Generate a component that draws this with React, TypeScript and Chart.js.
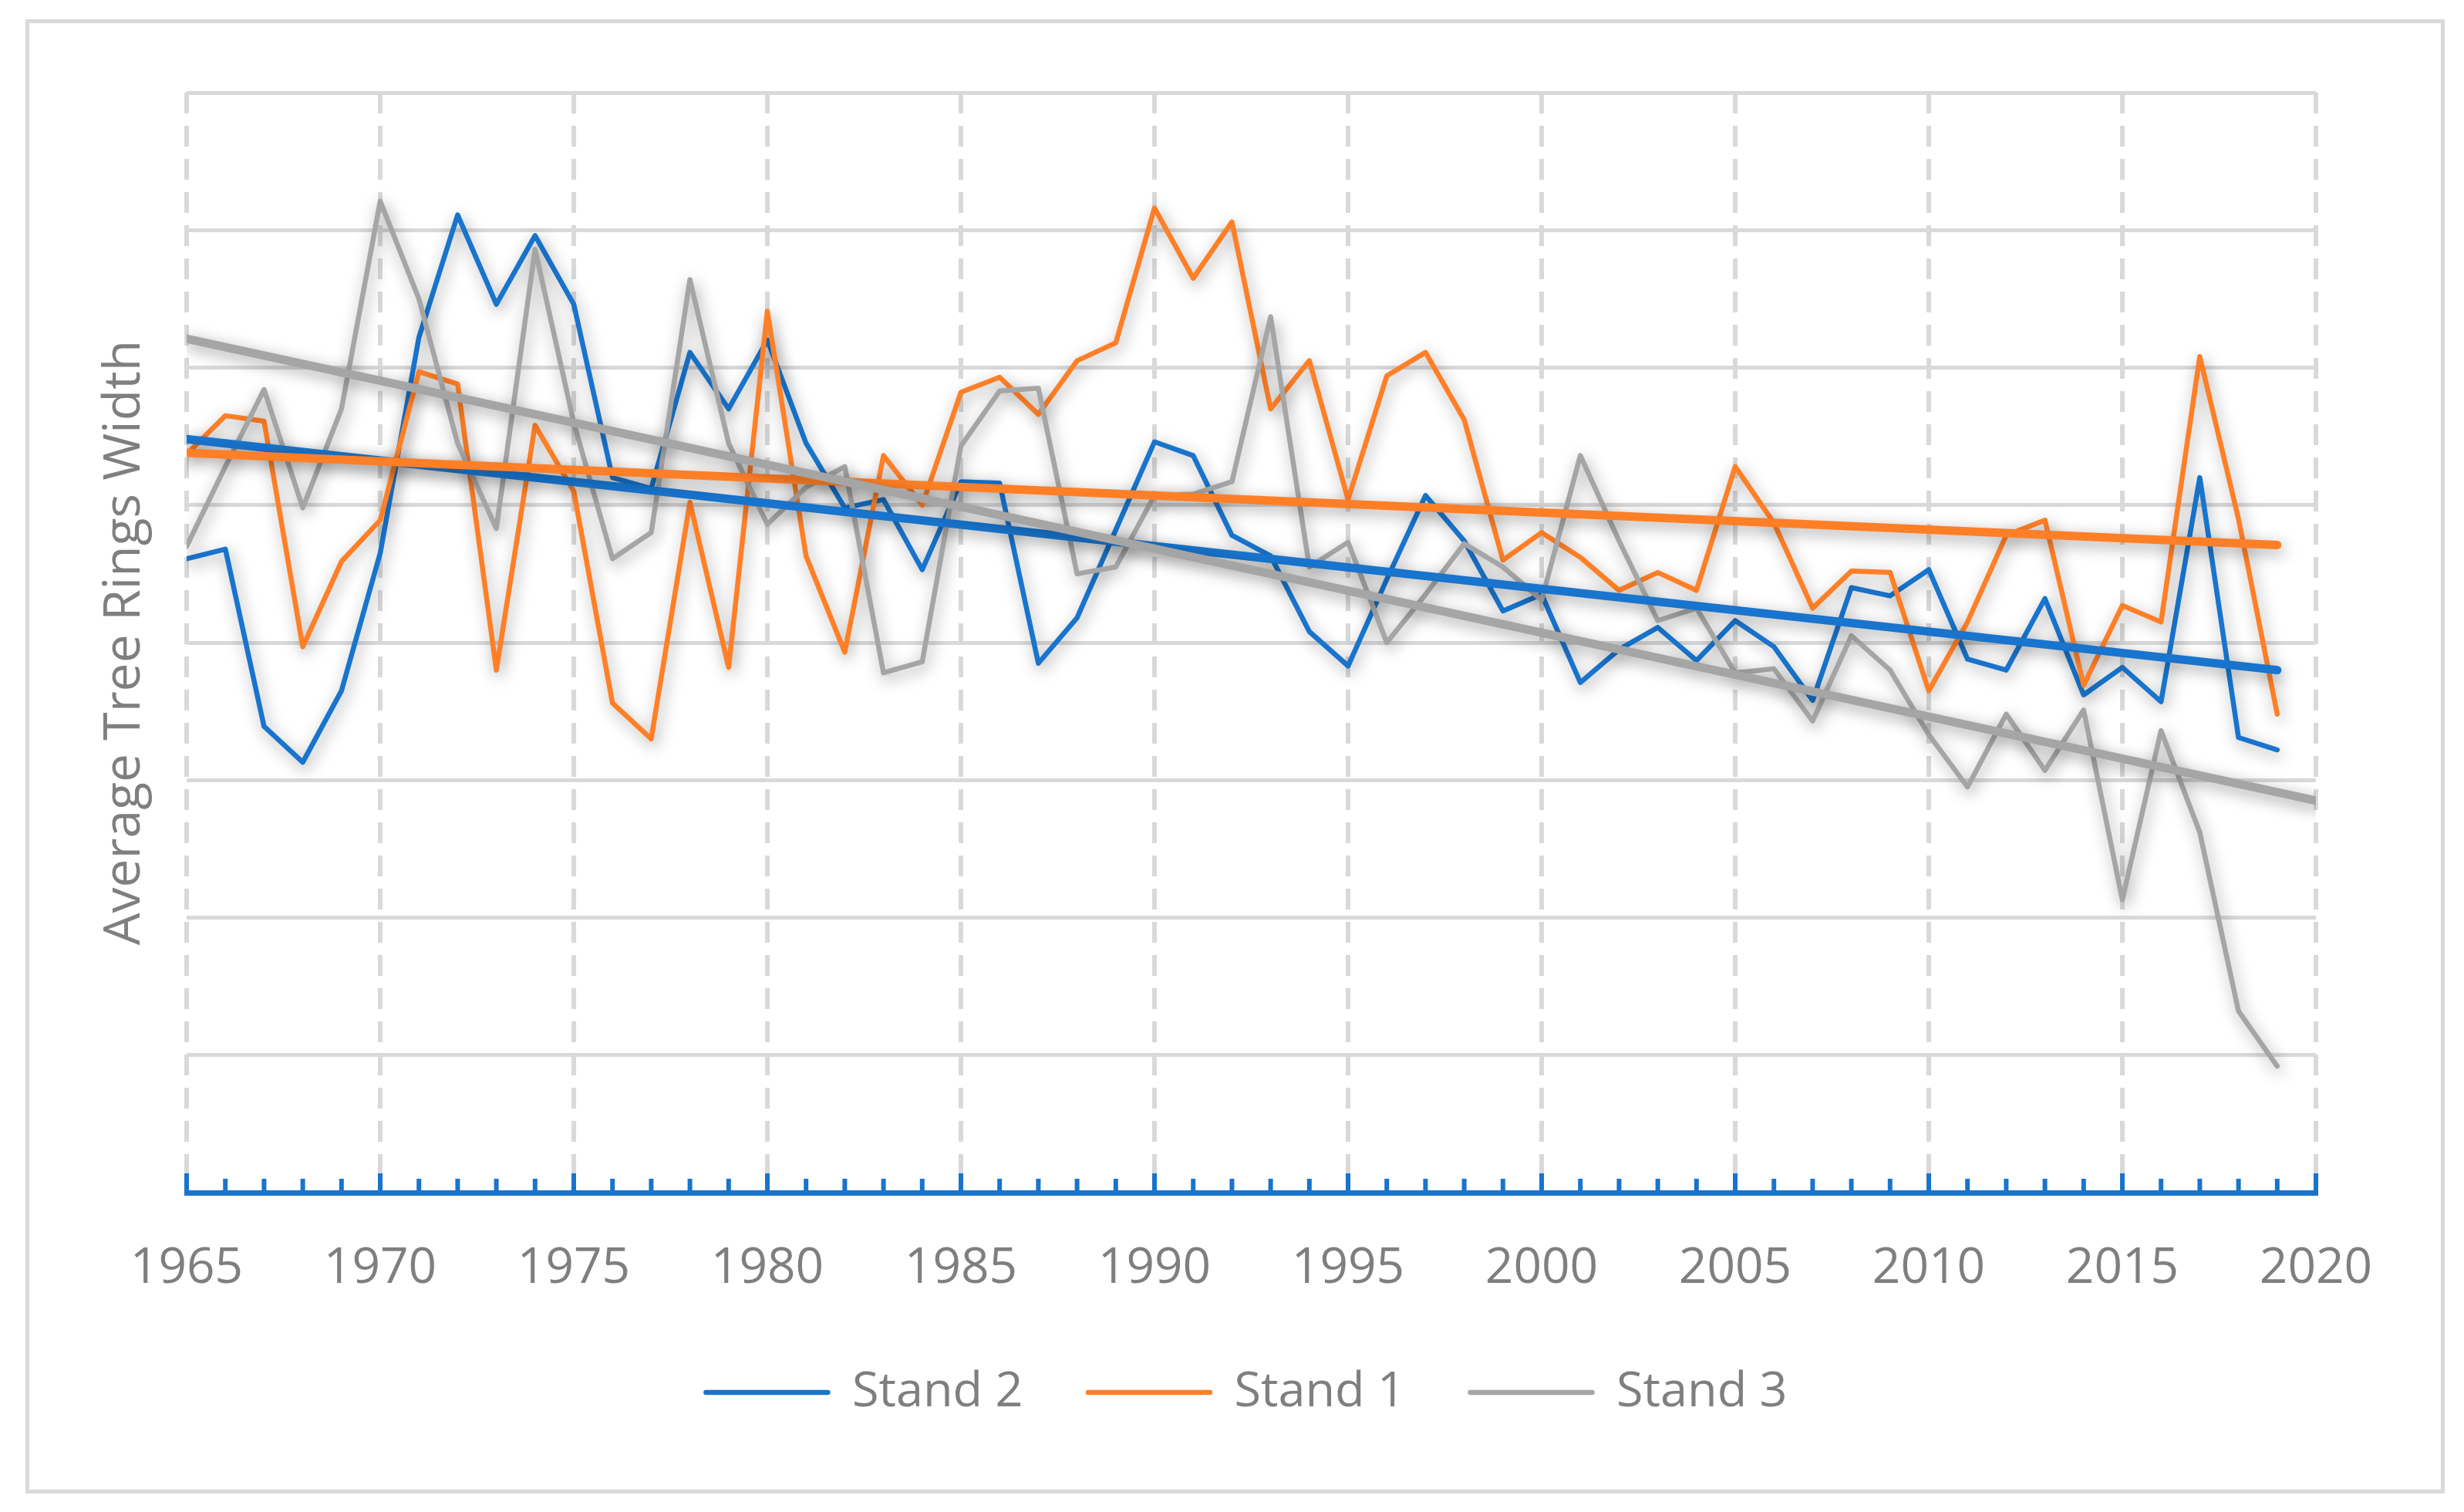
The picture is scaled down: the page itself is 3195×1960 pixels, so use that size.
import React, { useEffect, useRef } from 'react';
import { Chart, registerables } from 'chart.js';

Chart.register(...registerables);

// ---- Data (y in gridline units, axis has no tick labels) ----
const years = [
  1965, 1966, 1967, 1968, 1969, 1970, 1971, 1972, 1973, 1974,
  1975, 1976, 1977, 1978, 1979, 1980, 1981, 1982, 1983, 1984,
  1985, 1986, 1987, 1988, 1989, 1990, 1991, 1992, 1993, 1994,
  1995, 1996, 1997, 1998, 1999, 2000, 2001, 2002, 2003, 2004,
  2005, 2006, 2007, 2008, 2009, 2010, 2011, 2012, 2013, 2014,
  2015, 2016, 2017, 2018, 2019,
];

const stand2 = [
  4.61, 4.68, 3.39, 3.13, 3.65, 4.65, 6.22, 7.11, 6.46, 6.96,
  6.46, 5.20, 5.12, 6.11, 5.70, 6.20, 5.45, 4.98, 5.04, 4.53,
  5.17, 5.16, 3.85, 4.18, 4.82, 5.46, 5.36, 4.78, 4.63, 4.08,
  3.83, 4.46, 5.07, 4.74, 4.23, 4.35, 3.71, 3.95, 4.11, 3.87,
  4.16, 3.97, 3.58, 4.40, 4.34, 4.53, 3.88, 3.80, 4.32, 3.62,
  3.82, 3.57, 5.20, 3.31, 3.22,
];

const stand1 = [
  5.37, 5.65, 5.61, 3.97, 4.59, 4.89, 5.97, 5.88, 3.80, 5.58,
  5.10, 3.56, 3.30, 5.02, 3.82, 6.41, 4.63, 3.93, 5.36, 5.00,
  5.82, 5.93, 5.66, 6.05, 6.18, 7.16, 6.65, 7.06, 5.70, 6.05,
  5.04, 5.94, 6.11, 5.62, 4.60, 4.80, 4.62, 4.38, 4.51, 4.38,
  5.28, 4.87, 4.25, 4.52, 4.51, 3.65, 4.15, 4.78, 4.89, 3.69,
  4.27, 4.15, 6.08, 4.90, 3.48,
];

const stand3 = [
  4.70, 5.28, 5.84, 4.98, 5.70, 7.21, 6.50, 5.45, 4.83, 6.86,
  5.60, 4.61, 4.80, 6.64, 5.45, 4.86, 5.13, 5.28, 3.78, 3.86,
  5.43, 5.83, 5.85, 4.50, 4.55, 5.07, 5.08, 5.17, 6.37, 4.55,
  4.73, 4.00, 4.35, 4.72, 4.55, 4.31, 5.36, 4.74, 4.16, 4.25,
  3.78, 3.81, 3.43, 4.05, 3.80, 3.33, 2.95, 3.48, 3.07, 3.51,
  2.13, 3.36, 2.62, 1.32, 0.92,
];

// Linear trend lines (end points)
const trend2Years = [1965, 2019];
const trend2Values = [5.48, 3.80];
const trend1Years = [1965, 2019];
const trend1Values = [5.38, 4.71];
const trend3Years = [1965, 2020];
const trend3Values = [6.21, 2.85];

const seriesLabels = ['Stand 2', 'Stand 1', 'Stand 3'];
const yTitle = 'Average Tree Rings Width';

const BLUE = '#1874CD';
const ORANGE = '#FF7F27';
const GRAY = '#A5A5A5';
const TEXT = '#7F7F7F';
const GRID = '#D9D9D9';
const FONT = "'Open Sans', sans-serif";

const toPoints = (xs: number[], ys: number[]) => xs.map((x, i) => ({ x, y: ys[i] }));

const shadowPlugin = {
  id: 'lineShadow',
  beforeDatasetDraw(chart: any) {
    const ctx = chart.ctx;
    ctx.save();
    ctx.shadowColor = 'rgba(0,0,0,0.38)';
    ctx.shadowBlur = 20;
    ctx.shadowOffsetX = 3;
    ctx.shadowOffsetY = 6;
  },
  afterDatasetDraw(chart: any) {
    chart.ctx.restore();
  },
};

const framePlugin = {
  id: 'frame',
  beforeDraw(chart: any) {
    const ctx = chart.ctx;
    ctx.save();
    ctx.fillStyle = '#FFFFFF';
    ctx.fillRect(0, 0, chart.width, chart.height);
    ctx.strokeStyle = GRID;
    ctx.lineWidth = 5;
    ctx.strokeRect(35.5, 27.5, chart.width - 63, chart.height - 54);
    ctx.restore();
  },
};

const tickMarkPlugin = {
  id: 'insideTicks',
  afterDraw(chart: any) {
    const { ctx, chartArea } = chart;
    const xs = chart.scales.x;
    ctx.save();
    ctx.strokeStyle = BLUE;
    ctx.lineWidth = 6;
    for (let v = xs.min; v <= xs.max; v += 1) {
      const px = xs.getPixelForValue(v);
      const len = v % 5 === 0 ? 25 : 18;
      ctx.beginPath();
      ctx.moveTo(px, chartArea.bottom);
      ctx.lineTo(px, chartArea.bottom - len);
      ctx.stroke();
    }
    ctx.restore();
  },
};

export default function App() {
  const ref = useRef<HTMLCanvasElement>(null);

  useEffect(() => {
    document.body.style.margin = '0';
    const canvas = ref.current;
    if (!canvas) return;
    Chart.defaults.font.family = FONT;

    const lineBase = {
      pointRadius: 0,
      pointHoverRadius: 0,
      tension: 0,
      borderCapStyle: 'round' as const,
      borderJoinStyle: 'round' as const,
      fill: false,
    };

    const chart = new Chart(canvas, {
      type: 'line',
      data: {
        datasets: [
          { ...lineBase, label: seriesLabels[0], data: toPoints(years, stand2), borderColor: BLUE, backgroundColor: BLUE, borderWidth: 6.5, order: 6 },
          { ...lineBase, label: seriesLabels[1], data: toPoints(years, stand1), borderColor: ORANGE, backgroundColor: ORANGE, borderWidth: 6.5, order: 5 },
          { ...lineBase, label: seriesLabels[2], data: toPoints(years, stand3), borderColor: GRAY, backgroundColor: GRAY, borderWidth: 6.5, order: 4 },
          { ...lineBase, label: 'Trend 2', data: toPoints(trend2Years, trend2Values), borderColor: BLUE, backgroundColor: BLUE, borderWidth: 11, order: 3 },
          { ...lineBase, label: 'Trend 1', data: toPoints(trend1Years, trend1Values), borderColor: ORANGE, backgroundColor: ORANGE, borderWidth: 11, order: 2 },
          { ...lineBase, label: 'Trend 3', data: toPoints(trend3Years, trend3Values), borderColor: GRAY, backgroundColor: GRAY, borderWidth: 11, order: 1 },
        ],
      },
      options: {
        responsive: false,
        devicePixelRatio: 1,
        animation: false,
        events: [],
        layout: { padding: { left: 78, right: 40, top: 120, bottom: 113.5 } },
        plugins: {
          tooltip: { enabled: false },
          title: { display: false },
          legend: {
            display: true,
            position: 'bottom',
            align: 'center',
            labels: {
              usePointStyle: true,
              pointStyle: 'line',
              pointStyleWidth: 158,
              boxHeight: 63,
              padding: 84.5,
              color: TEXT,
              font: { family: FONT, size: 63 },
              generateLabels: (c: any) =>
                [0, 1, 2].map((i) => ({
                  text: c.data.datasets[i].label,
                  fillStyle: c.data.datasets[i].borderColor,
                  strokeStyle: c.data.datasets[i].borderColor,
                  lineWidth: 6.5,
                  lineCap: 'round',
                  pointStyle: 'line',
                  hidden: false,
                  fontColor: TEXT,
                  datasetIndex: i,
                })),
            },
          },
        },
        scales: {
          x: {
            type: 'linear',
            min: 1965,
            max: 2020,
            ticks: {
              stepSize: 5,
              autoSkip: false,
              maxRotation: 0,
              padding: 60,
              color: TEXT,
              font: { family: FONT, size: 64 },
              callback: (v: any) => String(v),
            },
            grid: { color: GRID, lineWidth: 6, drawTicks: false },
            border: { display: true, color: BLUE, width: 7, dash: [27, 16] },
            afterFit: (s: any) => { s.height = 143; },
          },
          y: {
            type: 'linear',
            position: 'left',
            min: 0,
            max: 8,
            ticks: { display: false, stepSize: 1 },
            grid: { color: GRID, lineWidth: 5, drawTicks: false },
            border: { display: false },
            title: {
              display: true,
              text: yTitle,
              color: TEXT,
              font: { family: FONT, size: 66 },
              padding: { top: 45, bottom: 0 },
            },
            afterFit: (s: any) => { s.width = 164; },
          },
          y2: {
            type: 'linear',
            position: 'right',
            display: true,
            ticks: { display: false },
            grid: { display: false, drawTicks: false },
            border: { display: false },
            afterFit: (s: any) => { s.width = 152; },
          },
        },
      } as any,
      plugins: [framePlugin, shadowPlugin, tickMarkPlugin],
    });

    return () => chart.destroy();
  }, []);

  return (
    <canvas
      ref={ref}
      width={3195}
      height={1960}
      style={{ display: 'block', width: '3195px', height: '1960px' }}
    />
  );
}
